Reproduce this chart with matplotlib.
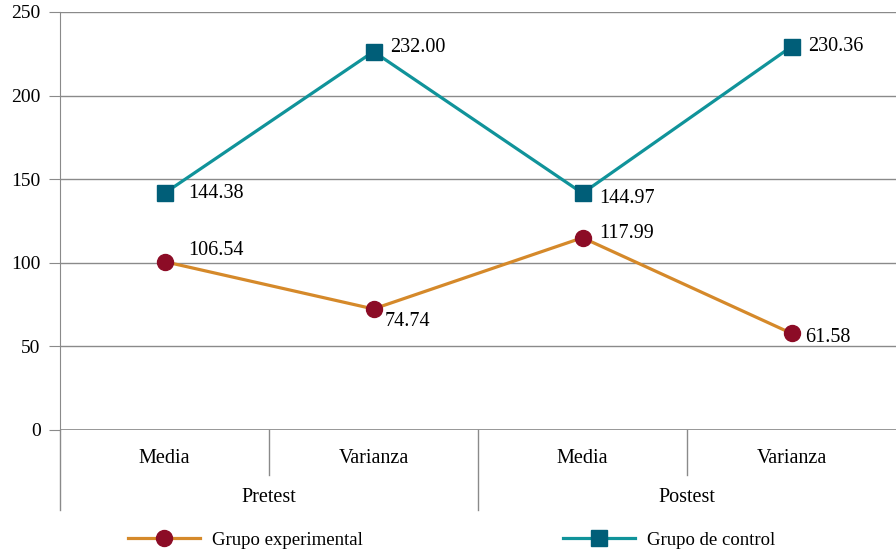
import matplotlib.pyplot as plt

# categories (two-level x axis)
categories = ["Media", "Varianza", "Media", "Varianza"]
groups = ["Pretest", "Postest"]

# values as drawn in the picture, and the printed labels
experimental = [100.7, 72.4, 115.0, 57.8]
experimental_labels = ["106.54", "74.74", "117.99", "61.58"]
control = [141.6, 226.3, 141.6, 229.3]
control_labels = ["144.38", "232.00", "144.97", "230.36"]

yticks = [0, 50, 100, 150, 200, 250]

ORANGE = "#d5892a"
DARKRED = "#8c0c26"
TEAL = "#10939a"
DARKTEAL = "#005e78"
GRID = "#8a8a8a"

plt.rcParams["font.family"] = ["Liberation Serif", "DejaVu Serif"]

fig = plt.figure(figsize=(8.96, 5.51), dpi=100)
ax = fig.add_axes([60 / 896, 121 / 551, 836 / 896, 418 / 551])

x = list(range(len(categories)))

ax.plot(x, experimental, color=ORANGE, lw=2.3, marker="o", ms=11.5,
        mfc=DARKRED, mec=DARKRED, label="Grupo experimental", zorder=3)
ax.plot(x, control, color=TEAL, lw=2.3, marker="s", ms=11.5,
        mfc=DARKTEAL, mec=DARKTEAL, label="Grupo de control", zorder=3)

# label offsets (points) for each point label
exp_off = [(17, 8), (8, -9), (12, 3), (10, -3)]
ctl_off = [(17, 0), (12, 3), (12, -4), (12, 0)]
for i in x:
    ax.annotate(experimental_labels[i], (x[i], experimental[i]),
                xytext=exp_off[i], textcoords="offset points",
                ha="left", va="center", fontsize=14.5)
    ax.annotate(control_labels[i], (x[i], control[i]),
                xytext=ctl_off[i], textcoords="offset points",
                ha="left", va="center", fontsize=14.5)

ax.set_xlim(-0.5, len(categories) - 0.5)
ax.set_ylim(0, 250)
ax.set_yticks(yticks)
ax.yaxis.grid(True, color=GRID, lw=1)
ax.set_axisbelow(True)

for s in ["top", "right", "bottom"]:
    ax.spines[s].set_visible(False)
ax.spines["left"].set_color(GRID)
ax.axhline(0, color=GRID, lw=1.2, zorder=1)

ax.tick_params(axis="y", length=8, color=GRID, pad=6, labelsize=14)
ax.set_xticks(x)
ax.set_xticklabels(categories, fontsize=14.5)
ax.tick_params(axis="x", length=0, pad=14)

# hierarchical axis dividers and group labels
trans = ax.get_xaxis_transform()
ax.plot([-0.5, -0.5], [0, -0.191], transform=trans, color=GRID, lw=1, clip_on=False)
ax.plot([1.5, 1.5], [0, -0.191], transform=trans, color=GRID, lw=1, clip_on=False)
for b in [0.5, 2.5]:
    ax.plot([b, b], [0, -0.108], transform=trans, color=GRID, lw=1, clip_on=False)
for gi, g in enumerate(groups):
    ax.text(gi * 2 + 0.5, -0.162, g, transform=trans, ha="center", va="center", fontsize=14.5)

fig.legend(loc="center", bbox_to_anchor=(0.504, 0.02), ncol=2, frameon=False,
           fontsize=13.5, handlelength=3.85, handletextpad=0.64, columnspacing=10.7)

fig.savefig("out.png", dpi=100)
